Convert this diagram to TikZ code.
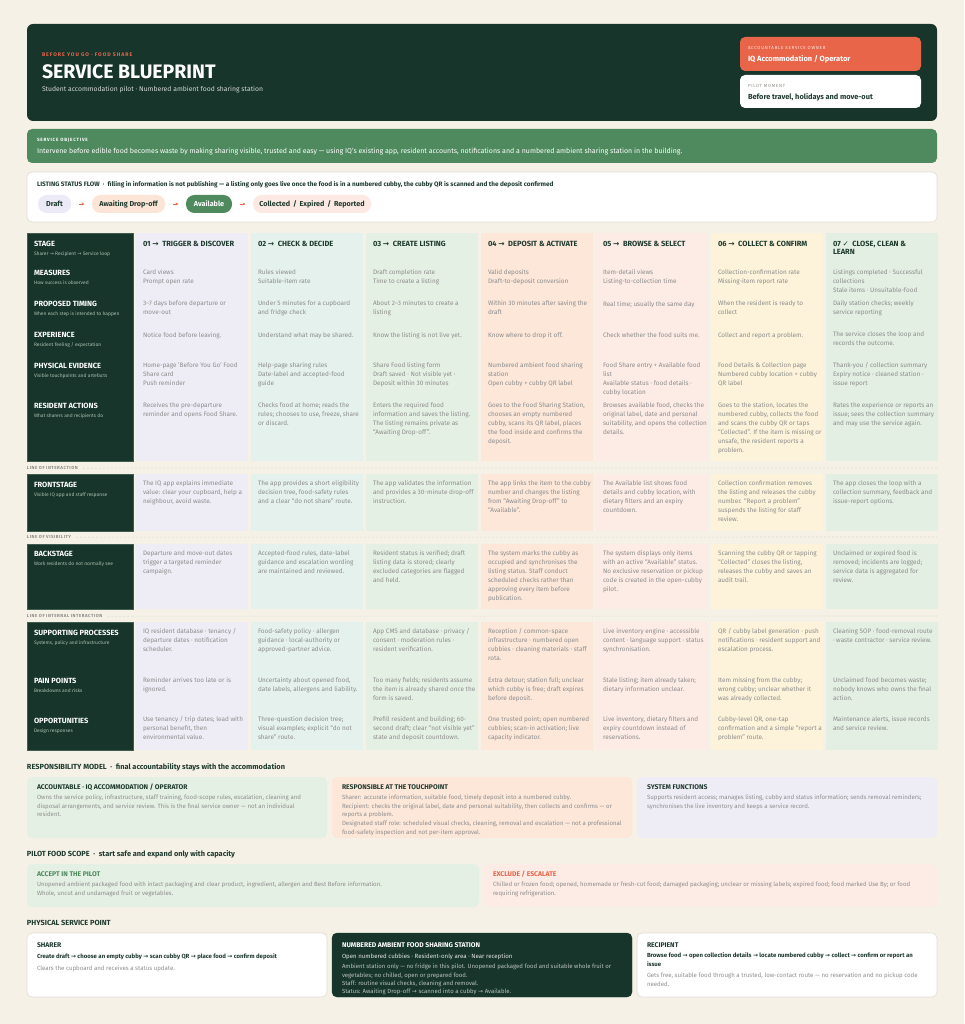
\documentclass[tikz,border=0pt]{standalone}
\usepackage{fontspec}
\setmainfont{Fira Sans}
\newfontfamily\symf{DejaVu Sans}
\newcommand\ra{{\symf\char"2192}}
\newcommand\ck{{\symf\mdseries\char"2713}}
\usetikzlibrary{arrows.meta}
\definecolor{cream}{HTML}{F5F1E7}
\definecolor{dkgreen}{HTML}{17352A}
\definecolor{labborder}{HTML}{3F5E50}
\definecolor{orng}{HTML}{E8654A}
\definecolor{objgreen}{HTML}{4E8A5E}
\definecolor{cA}{HTML}{EEEDF6}
\definecolor{cB}{HTML}{E4F1EC}
\definecolor{cC}{HTML}{E5F0E4}
\definecolor{cD}{HTML}{FCE7D9}
\definecolor{cE}{HTML}{FDEBE5}
\definecolor{cF}{HTML}{FCF3DA}
\definecolor{cG}{HTML}{E3EFE3}
\definecolor{cellgrey}{HTML}{8E8E8E}
\definecolor{headgreen}{HTML}{1F3A2E}
\definecolor{subgreen}{HTML}{A9BDB1}
\definecolor{linegrey}{HTML}{8A8A84}
\definecolor{sepcol}{HTML}{DEDBD1}
\definecolor{boxborder}{HTML}{E3DED3}
\definecolor{pillpink}{HTML}{FCE9E3}
\definecolor{pillpeach}{HTML}{FCE5D6}
\definecolor{pilllav}{HTML}{ECEAF6}
\begin{document}
\begin{tikzpicture}[x=1pt,y=-1pt,
 txt/.style={anchor=north west, inner sep=0pt, outer sep=0pt, align=left, execute at begin node=\strut},
 cell/.style={txt, text=cellgrey, font=\fontsize{6.4}{8.9}\selectfont, yshift=4.3pt},
 colhead/.style={txt, text=headgreen, font=\bfseries\fontsize{7.5}{8.4}\selectfont, yshift=3.3pt},
 labtitle/.style={txt, text=white, font=\bfseries\fontsize{7.5}{8.4}\selectfont, yshift=3.3pt},
 labsub/.style={txt, text=subgreen, font=\fontsize{4.9}{6}\selectfont, yshift=2.9pt},
 lineof/.style={txt, text=linegrey, font=\bfseries\fontsize{4.4}{6}\selectfont\addfontfeatures{LetterSpace=12}, yshift=2.8pt},
 sepline/.style={draw=sepcol, line width=0.6pt, dash pattern=on 2pt off 2pt},
 labbox/.style={fill=dkgreen, draw=labborder, line width=0.6pt},
 sechead/.style={txt, text=headgreen, font=\bfseries\fontsize{7.4}{9}\selectfont, yshift=3.7pt},
 btitle/.style={txt, text=headgreen, font=\bfseries\fontsize{6.8}{8}\selectfont, yshift=3.3pt},
 bbody/.style={txt, text=cellgrey, font=\fontsize{6.1}{8.7}\selectfont, yshift=4.2pt},
 bbold/.style={txt, text=headgreen, font=\bfseries\fontsize{6.0}{8.8}\selectfont, yshift=4.2pt},
 pill/.style={rounded corners=8.5pt, minimum height=18pt, inner sep=0pt, font=\bfseries\fontsize{7.2}{8}\selectfont, text=headgreen},
 flowarrow/.style={draw=orng, line width=0.8pt, -{Stealth[length=2.6pt,width=3pt]}, shorten <=7.5pt, shorten >=7.5pt}
]
\path[use as bounding box, fill=cream] (0,0) rectangle (964,1024);

% ---------- header ----------
\fill[dkgreen, rounded corners=6pt] (27,24) rectangle (937,121);
\node[txt, text=orng, font=\bfseries\fontsize{5.2}{6}\selectfont\addfontfeatures{LetterSpace=19}, yshift=2.9pt] (kicker) at (42,55) {BEFORE YOU GO · FOOD SHARE};
\node[txt, text=white, font=\bfseries\fontsize{19.5}{22}\selectfont, yshift=8.6pt] (title) at (42,72) {SERVICE BLUEPRINT};
\node[txt, text=white!80!dkgreen, font=\fontsize{6.8}{8}\selectfont, yshift=3.8pt] (subtitle) at (42,90) {Student accommodation pilot · Numbered ambient food sharing station};
\fill[orng, rounded corners=5pt] (740,37) rectangle (921,71);
\node[txt, text=white!85!orng, font=\fontsize{4.4}{5}\selectfont\addfontfeatures{LetterSpace=17}, yshift=2.4pt] (ownerk) at (748,48) {ACCOUNTABLE SERVICE OWNER};
\node[txt, text=white, font=\bfseries\fontsize{7.5}{9}\selectfont, yshift=3.7pt] (owner) at (748,59) {IQ Accommodation / Operator};
\fill[white, rounded corners=5pt] (740,75) rectangle (921,108);
\node[txt, text=linegrey, font=\fontsize{4.4}{5}\selectfont\addfontfeatures{LetterSpace=17}, yshift=2.4pt] (momentk) at (748,86) {PILOT MOMENT};
\node[txt, text=headgreen, font=\bfseries\fontsize{7.4}{9}\selectfont, yshift=3.7pt] (moment) at (748,97) {Before travel, holidays and move-out};

% ---------- objective ----------
\fill[objgreen, rounded corners=5pt] (27,129) rectangle (937,163);
\node[txt, text=white, font=\bfseries\fontsize{4.6}{6}\selectfont\addfontfeatures{LetterSpace=17}, yshift=2.8pt] (objk) at (37,140) {SERVICE OBJECTIVE};
\node[txt, text=white, font=\fontsize{7}{8}\selectfont, yshift=3.3pt] (obj) at (37,151) {Intervene before edible food becomes waste by making sharing visible, trusted and easy — using IQ’s existing app, resident accounts, notifications and a numbered ambient sharing station in the building.};

% ---------- status flow ----------
\filldraw[fill=white, draw=boxborder, line width=0.6pt, rounded corners=5pt] (27,172) rectangle (937,222);
\node[txt, text=headgreen, font=\bfseries\fontsize{6.4}{8}\selectfont, yshift=3.4pt] (flowt) at (37,184) {LISTING STATUS FLOW\enspace·\enspace filling in information is not publishing — a listing only goes live once the food is in a numbered cubby, the cubby QR is scanned and the deposit confirmed};
\node[pill, fill=pilllav, minimum width=33pt] (draft) at (54.5,204) {Draft};
\node[pill, fill=pillpeach, minimum width=73pt] (await) at (128.5,204) {Awaiting Drop-off};
\node[pill, fill=objgreen, text=white, minimum width=46pt] (avail) at (209,204) {Available};
\node[pill, fill=pillpink, minimum width=118pt] (closed) at (312,204) {Collected\, / \,Expired\, / \,Reported};
\draw[flowarrow] (draft) -- (await);
\draw[flowarrow] (await) -- (avail);
\draw[flowarrow] (avail) -- (closed);

% ---------- table backgrounds ----------
\draw[labbox] (27,233) rectangle (133,461);
\draw[labbox] (27,474) rectangle (133,531);
\draw[labbox] (27,544) rectangle (133,609);
\draw[labbox] (27,622) rectangle (133,750);
\foreach \x/\c in {136/cA,251/cB,366/cC,481/cD,596/cE,711/cF,826/cG}{
  \fill[\c] (\x,233) rectangle ++(112,228);
  \fill[\c] (\x,474) rectangle ++(112,57);
  \fill[\c] (\x,544) rectangle ++(112,65);
  \fill[\c] (\x,622) rectangle ++(112,128);
}

% ---------- lines ----------
\node[lineof] (loi) at (27,468) {LINE OF INTERACTION};
\coordinate (loiE) at (937,468);
\draw[sepline] ([xshift=5pt]loi.east) -- (loiE);
\node[lineof] (lov) at (27,537) {LINE OF VISIBILITY};
\coordinate (lovE) at (937,537);
\draw[sepline] ([xshift=5pt]lov.east) -- (lovE);
\node[lineof] (lii) at (27,616) {LINE OF INTERNAL INTERACTION};
\coordinate (liiE) at (937,616);
\draw[sepline] ([xshift=5pt]lii.east) -- (liiE);

% ---------- label column ----------
\node[labtitle] (lStage) at (34,244) {STAGE};
\node[labsub] (sStage) at (34,254) {Sharer \ra\ Recipient \ra\ Service loop};
\node[labtitle] (lMeas) at (34,273) {MEASURES};
\node[labsub] (sMeas) at (34,283) {How success is observed};
\node[labtitle] (lTime) at (34,304) {PROPOSED TIMING};
\node[labsub] (sTime) at (34,314) {When each step is intended to happen};
\node[labtitle] (lExp) at (34,335) {EXPERIENCE};
\node[labsub] (sExp) at (34,345) {Resident feeling / expectation};
\node[labtitle] (lEvid) at (34,366) {PHYSICAL EVIDENCE};
\node[labsub] (sEvid) at (34,376) {Visible touchpoints and artefacts};
\node[labtitle] (lAct) at (34,406) {RESIDENT ACTIONS};
\node[labsub] (sAct) at (34,416) {What sharers and recipients do};
\node[labtitle] (lFront) at (34,485) {FRONTSTAGE};
\node[labsub] (sFront) at (34,495) {Visible IQ app and staff response};
\node[labtitle] (lBack) at (34,554) {BACKSTAGE};
\node[labsub] (sBack) at (34,564) {Work residents do not normally see};
\node[labtitle] (lSupp) at (34,633) {SUPPORTING PROCESSES};
\node[labsub] (sSupp) at (34,643) {Systems, policy and infrastructure};
\node[labtitle] (lPain) at (34,681) {PAIN POINTS};
\node[labsub] (sPain) at (34,691) {Breakdowns and risks};
\node[labtitle] (lOpp) at (34,721) {OPPORTUNITIES};
\node[labsub] (sOpp) at (34,731) {Design responses};

% ---------- column 01 ----------
\node[colhead] (h1) at (143,244) {01 \ra\ \ TRIGGER \& DISCOVER};
\node[cell] (m1) at (143,274) {Card views\\Prompt open rate};
\node[cell] (t1) at (143,305) {3–7 days before departure or\\move-out};
\node[cell] (e1) at (143,336) {Notice food before leaving.};
\node[cell] (v1) at (143,367) {Home-page ‘Before You Go’ Food\\Share card\\Push reminder};
\node[cell] (a1) at (143,407) {Receives the pre-departure\\reminder and opens Food Share.};
\node[cell] (f1) at (143,485) {The IQ app explains immediate\\value: clear your cupboard, help a\\neighbour, avoid waste.};
\node[cell] (b1) at (143,555) {Departure and move-out dates\\trigger a targeted reminder\\campaign.};
\node[cell] (s1) at (143,633) {IQ resident database · tenancy /\\departure dates · notification\\scheduler.};
\node[cell] (p1) at (143,682) {Reminder arrives too late or is\\ignored.};
\node[cell] (o1) at (143,721) {Use tenancy / trip dates; lead with\\personal benefit, then\\environmental value.};

% ---------- column 02 ----------
\node[colhead] (h2) at (258,244) {02 \ra\ \ CHECK \& DECIDE};
\node[cell] (m2) at (258,274) {Rules viewed\\Suitable-item rate};
\node[cell] (t2) at (258,305) {Under 5 minutes for a cupboard\\and fridge check};
\node[cell] (e2) at (258,336) {Understand what may be shared.};
\node[cell] (v2) at (258,367) {Help-page sharing rules\\Date-label and accepted-food\\guide};
\node[cell] (a2) at (258,407) {Checks food at home; reads the\\rules; chooses to use, freeze, share\\or discard.};
\node[cell] (f2) at (258,485) {The app provides a short eligibility\\decision tree, food-safety rules\\and a clear “do not share” route.};
\node[cell] (b2) at (258,555) {Accepted-food rules, date-label\\guidance and escalation wording\\are maintained and reviewed.};
\node[cell] (s2) at (258,633) {Food-safety policy · allergen\\guidance · local-authority or\\approved-partner advice.};
\node[cell] (p2) at (258,682) {Uncertainty about opened food,\\date labels, allergens and liability.};
\node[cell] (o2) at (258,721) {Three-question decision tree;\\visual examples; explicit “do not\\share” route.};

% ---------- column 03 ----------
\node[colhead] (h3) at (373,244) {03 \ra\ \ CREATE LISTING};
\node[cell] (m3) at (373,274) {Draft completion rate\\Time to create a listing};
\node[cell] (t3) at (373,305) {About 2–3 minutes to create a\\listing};
\node[cell] (e3) at (373,336) {Know the listing is not live yet.};
\node[cell] (v3) at (373,367) {Share Food listing form\\Draft saved · Not visible yet ·\\Deposit within 30 minutes};
\node[cell] (a3) at (373,407) {Enters the required food\\information and saves the listing.\\The listing remains private as\\“Awaiting Drop-off”.};
\node[cell] (f3) at (373,485) {The app validates the information\\and provides a 30-minute drop-off\\instruction.};
\node[cell] (b3) at (373,555) {Resident status is verified; draft\\listing data is stored; clearly\\excluded categories are flagged\\and held.};
\node[cell] (s3) at (373,633) {App CMS and database · privacy /\\consent · moderation rules ·\\resident verification.};
\node[cell] (p3) at (373,682) {Too many fields; residents assume\\the item is already shared once the\\form is saved.};
\node[cell] (o3) at (373,721) {Prefill resident and building; 60-\\second draft; clear “not visible yet”\\state and deposit countdown.};

% ---------- column 04 ----------
\node[colhead] (h4) at (488,244) {04 \ra\ \ DEPOSIT \& ACTIVATE};
\node[cell] (m4) at (488,274) {Valid deposits\\Draft-to-deposit conversion};
\node[cell] (t4) at (488,305) {Within 30 minutes after saving the\\draft};
\node[cell] (e4) at (488,336) {Know where to drop it off.};
\node[cell] (v4) at (488,367) {Numbered ambient food sharing\\station\\Open cubby + cubby QR label};
\node[cell] (a4) at (488,407) {Goes to the Food Sharing Station,\\chooses an empty numbered\\cubby, scans its QR label, places\\the food inside and confirms the\\deposit.};
\node[cell] (f4) at (488,485) {The app links the item to the cubby\\number and changes the listing\\from “Awaiting Drop-off” to\\“Available”.};
\node[cell] (b4) at (488,555) {The system marks the cubby as\\occupied and synchronises the\\listing status. Staff conduct\\scheduled checks rather than\\approving every item before\\publication.};
\node[cell] (s4) at (488,633) {Reception / common-space\\infrastructure · numbered open\\cubbies · cleaning materials · staff\\rota.};
\node[cell] (p4) at (488,682) {Extra detour; station full; unclear\\which cubby is free; draft expires\\before deposit.};
\node[cell] (o4) at (488,721) {One trusted point; open numbered\\cubbies; scan-in activation; live\\capacity indicator.};

% ---------- column 05 ----------
\node[colhead] (h5) at (603,244) {05 \ra\ \ BROWSE \& SELECT};
\node[cell] (m5) at (603,274) {Item-detail views\\Listing-to-collection time};
\node[cell] (t5) at (603,305) {Real time; usually the same day};
\node[cell] (e5) at (603,336) {Check whether the food suits me.};
\node[cell] (v5) at (603,367) {Food Share entry + Available food\\list\\Available status · food details ·\\cubby location};
\node[cell] (a5) at (603,407) {Browses available food, checks the\\original label, date and personal\\suitability, and opens the collection\\details.};
\node[cell] (f5) at (603,485) {The Available list shows food\\details and cubby location, with\\dietary filters and an expiry\\countdown.};
\node[cell] (b5) at (603,555) {The system displays only items\\with an active “Available” status.\\No exclusive reservation or pickup\\code is created in the open-cubby\\pilot.};
\node[cell] (s5) at (603,633) {Live inventory engine · accessible\\content · language support · status\\synchronisation.};
\node[cell] (p5) at (603,682) {Stale listing; item already taken;\\dietary information unclear.};
\node[cell] (o5) at (603,721) {Live inventory, dietary filters and\\expiry countdown instead of\\reservations.};

% ---------- column 06 ----------
\node[colhead] (h6) at (718,244) {06 \ra\ \ COLLECT \& CONFIRM};
\node[cell] (m6) at (718,274) {Collection-confirmation rate\\Missing-item report rate};
\node[cell] (t6) at (718,305) {When the resident is ready to\\collect};
\node[cell] (e6) at (718,336) {Collect and report a problem.};
\node[cell] (v6) at (718,367) {Food Details \& Collection page\\Numbered cubby location + cubby\\QR label};
\node[cell] (a6) at (718,407) {Goes to the station, locates the\\numbered cubby, collects the food\\and scans the cubby QR or taps\\“Collected”. If the item is missing or\\unsafe, the resident reports a\\problem.};
\node[cell] (f6) at (718,485) {Collection confirmation removes\\the listing and releases the cubby\\number. “Report a problem”\\suspends the listing for staff\\review.};
\node[cell] (b6) at (718,555) {Scanning the cubby QR or tapping\\“Collected” closes the listing,\\releases the cubby and saves an\\audit trail.};
\node[cell] (s6) at (718,633) {QR / cubby label generation · push\\notifications · resident support and\\escalation process.};
\node[cell] (p6) at (718,682) {Item missing from the cubby;\\wrong cubby; unclear whether it\\was already collected.};
\node[cell] (o6) at (718,721) {Cubby-level QR, one-tap\\confirmation and a simple “report a\\problem” route.};

% ---------- column 07 ----------
\node[colhead] (h7) at (833,244) {07 \ck\ \ CLOSE, CLEAN \&\\LEARN};
\node[cell] (m7) at (833,274) {Listings completed · Successful\\collections\\Stale items · Unsuitable-food};
\node[cell] (t7) at (833,305) {Daily station checks; weekly\\service reporting};
\node[cell] (e7) at (833,336) {The service closes the loop and\\records the outcome.};
\node[cell] (v7) at (833,367) {Thank-you / collection summary\\Expiry notice · cleaned station ·\\issue report};
\node[cell] (a7) at (833,407) {Rates the experience or reports an\\issue; sees the collection summary\\and may use the service again.};
\node[cell] (f7) at (833,485) {The app closes the loop with a\\collection summary, feedback and\\issue-report options.};
\node[cell] (b7) at (833,555) {Unclaimed or expired food is\\removed; incidents are logged;\\service data is aggregated for\\review.};
\node[cell] (s7) at (833,633) {Cleaning SOP · food-removal route\\· waste contractor · service review.};
\node[cell] (p7) at (833,682) {Unclaimed food becomes waste;\\nobody knows who owns the final\\action.};
\node[cell] (o7) at (833,721) {Maintenance alerts, issue records\\and service review.};

% ---------- responsibility model ----------
\node[sechead] (rmh) at (27,767) {RESPONSIBILITY MODEL\enspace·\enspace final accountability stays with the accommodation};
\fill[cC, rounded corners=5pt] (27,777) rectangle (327,838);
\fill[cD, rounded corners=5pt] (332,777) rectangle (632,838);
\fill[cA, rounded corners=5pt] (637,777) rectangle (937,838);
\node[btitle] (rm1t) at (37,787) {ACCOUNTABLE · IQ ACCOMMODATION / OPERATOR};
\node[bbody] (rm1b) at (37,799) {Owns the service policy, infrastructure, staff training, food-scope rules, escalation, cleaning and\\disposal arrangements, and service review. This is the final service owner — not an individual\\resident.};
\node[btitle] (rm2t) at (342,787) {RESPONSIBLE AT THE TOUCHPOINT};
\node[bbody] (rm2b) at (342,799) {Sharer: accurate information, suitable food, timely deposit into a numbered cubby.\\Recipient: checks the original label, date and personal suitability, then collects and confirms — or\\reports a problem.\\Designated staff role: scheduled visual checks, cleaning, removal and escalation — not a professional\\food-safety inspection and not per-item approval.};
\node[btitle] (rm3t) at (647,787) {SYSTEM FUNCTIONS};
\node[bbody] (rm3b) at (647,799) {Supports resident access; manages listing, cubby and status information; sends removal reminders;\\synchronises the live inventory and keeps a service record.};

% ---------- pilot food scope ----------
\node[sechead] (pfh) at (27,854) {PILOT FOOD SCOPE\enspace·\enspace start safe and expand only with capacity};
\fill[cC, rounded corners=5pt] (27,864) rectangle (479,907);
\fill[cE, rounded corners=5pt] (483,864) rectangle (937,907);
\node[btitle, text=objgreen] (pf1t) at (37,874) {ACCEPT IN THE PILOT};
\node[bbody] (pf1b) at (37,886) {Unopened ambient packaged food with intact packaging and clear product, ingredient, allergen and Best Before information.\\Whole, uncut and undamaged fruit or vegetables.};
\node[btitle, text=orng] (pf2t) at (493,874) {EXCLUDE / ESCALATE};
\node[bbody] (pf2b) at (493,886) {Chilled or frozen food; opened, homemade or fresh-cut food; damaged packaging; unclear or missing labels; expired food; food marked Use By; or food\\requiring refrigeration.};

% ---------- physical service point ----------
\node[sechead] (psh) at (27,923) {PHYSICAL SERVICE POINT};
\filldraw[fill=white, draw=boxborder, line width=0.6pt, rounded corners=5pt] (27,933) rectangle (327,997);
\filldraw[fill=dkgreen, draw=dkgreen, rounded corners=5pt] (332,933) rectangle (632,997);
\filldraw[fill=white, draw=boxborder, line width=0.6pt, rounded corners=5pt] (637,933) rectangle (937,997);
\node[btitle] (ps1t) at (37,945) {SHARER};
\node[bbold] (ps1a) at (37,957) {Create draft \ra\ choose an empty cubby \ra\ scan cubby QR \ra\ place food \ra\ confirm deposit};
\node[bbody] (ps1b) at (37,969) {Clears the cupboard and receives a status update.};
\node[btitle, text=white] (ps2t) at (342,945) {NUMBERED AMBIENT FOOD SHARING STATION};
\node[bbold, text=white!88!dkgreen, font=\fontsize{6.1}{8.8}\selectfont] (ps2a) at (342,957) {Open numbered cubbies · Resident-only area · Near reception};
\node[bbody, text=white!70!dkgreen, font=\fontsize{6.0}{8.3}\selectfont] (ps2b) at (342,968.5) {Ambient station only — no fridge in this pilot. Unopened packaged food and suitable whole fruit or\\vegetables; no chilled, open or prepared food.\\Staff: routine visual checks, cleaning and removal.\\Status: Awaiting Drop-off \ra\ scanned into a cubby \ra\ Available.};
\node[btitle] (ps3t) at (647,945) {RECIPIENT};
\node[bbold] (ps3a) at (647,957) {Browse food \ra\ open collection details \ra\ locate numbered cubby \ra\ collect \ra\ confirm or report an\\issue};
\node[bbody] (ps3b) at (647,977) {Gets free, suitable food through a trusted, low-contact route — no reservation and no pickup code\\needed.};
\end{tikzpicture}
\end{document}
